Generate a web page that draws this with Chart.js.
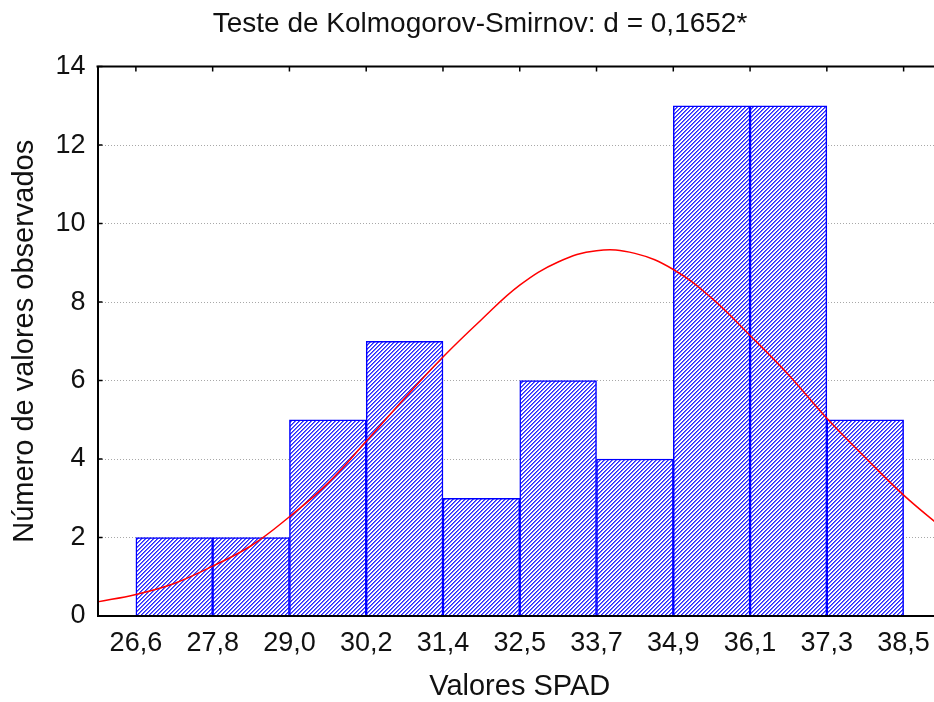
<!DOCTYPE html>
<html>
<head>
<meta charset="utf-8">
<title>Valores SPAD</title>
<script src="https://cdn.jsdelivr.net/npm/chart.js@4.4.0/dist/chart.umd.min.js"></script>
<style>
    html, body { margin: 0; padding: 0; background: #fff; overflow: hidden; }
    #wrap { width: 960px; height: 702px; }
</style>
</head>
<body>
<div id="wrap"><canvas id="spadChart" width="960" height="702"></canvas></div>
<script>
// Bin edges (tick labels) and observed counts per bin
var edgeLabels = ['26,6', '27,8', '29,0', '30,2', '31,4', '32,5', '33,7', '34,9', '36,1', '37,3', '38,5'];
var counts = [2, 2, 5, 7, 3, 6, 4, 13, 13, 5];

// Expected normal curve (x in bin units, 0 = 26,6)
var curveX = [-0.5, 0, 0.5, 1, 1.5, 2, 2.5, 3, 3.5, 4, 4.5, 5, 5.5, 6, 6.5, 7, 7.5, 8, 8.5, 9, 9.5, 10, 10.5];
var curveY = [0.36, 0.55, 0.83, 1.27, 1.79, 2.53, 3.38, 4.45, 5.55, 6.6, 7.55, 8.43, 9.02, 9.31, 9.24, 8.83, 8.1, 7.15, 6.15, 5.04, 4.04, 3.08, 2.25];

var fontFamily = "'Liberation Sans', Arial, sans-serif";
var textColor = '#111';

// Hatch fill for the bars
function makeHatch() {
    var tile = document.createElement('canvas');
    tile.width = 4;
    tile.height = 4;
    var t = tile.getContext('2d');
    t.fillStyle = '#fff';
    t.fillRect(0, 0, 4, 4);
    for (var y = 0; y < 4; y++) {
        t.fillStyle = '#2828ff';
        t.fillRect((3 - y + 4) % 4, y, 1, 1);
        t.fillStyle = '#6c6cff';
        t.fillRect((4 - y) % 4, y, 1, 1);
    }
    return document.getElementById('spadChart').getContext('2d').createPattern(tile, 'repeat');
}

var barPoints = counts.map(function (c, i) { return { x: i + 0.5, y: c }; });
var curvePoints = curveX.map(function (x, i) { return { x: x, y: curveY[i] }; });

// Top frame line and the small inward tick marks
var frameTicks = {
    id: 'frameTicks',
    afterDraw: function (chart) {
        var c = chart.ctx, area = chart.chartArea;
        var xs = chart.scales.x, ys = chart.scales.y;
        c.save();
        c.strokeStyle = '#000';
        c.lineWidth = 2;
        c.beginPath();
        c.moveTo(area.left - 1, area.top);
        c.lineTo(area.right, area.top);
        c.stroke();
        c.lineWidth = 1.5;
        c.beginPath();
        xs.ticks.forEach(function (t) {
            var px = xs.getPixelForValue(t.value);
            c.moveTo(px, area.top);
            c.lineTo(px, area.top + 5);
        });
        ys.ticks.forEach(function (t) {
            var py = ys.getPixelForValue(t.value);
            c.moveTo(area.left, py);
            c.lineTo(area.left + 5, py);
        });
        c.stroke();
        c.restore();
    }
};

var ctx = document.getElementById('spadChart').getContext('2d');
var spadChart = new Chart(ctx, {
    type: 'bar',
    data: {
        datasets: [{
            type: 'line',
            data: curvePoints,
            borderColor: '#ff0000',
            borderWidth: 1.5,
            pointRadius: 0,
            tension: 0.4,
            fill: false,
            order: 0
        }, {
            type: 'bar',
            data: barPoints,
            backgroundColor: makeHatch(),
            borderColor: '#0000ff',
            borderWidth: 1.5,
            barPercentage: 1,
            categoryPercentage: 1,
            order: 1
        }]
    },
    options: {
        responsive: false,
        animation: false,
        layout: { padding: { left: 18, right: 18, top: 0, bottom: 0 } },
        plugins: {
            legend: { display: false },
            tooltip: { enabled: false },
            title: {
                display: true,
                text: 'Teste de Kolmogorov-Smirnov: d = 0,1652*',
                color: textColor,
                font: { family: fontFamily, size: 28, weight: 'normal' },
                padding: { top: 7, bottom: 26 }
            }
        },
        scales: {
            x: {
                type: 'linear',
                offset: false,
                min: -0.5,
                max: 10.5,
                afterBuildTicks: function (scale) {
                    scale.ticks = edgeLabels.map(function (l, i) { return { value: i }; });
                },
                afterFit: function (scale) { scale.height = 86; },
                grid: { display: false, drawTicks: false },
                border: { display: true, color: '#000', width: 2, z: 1 },
                ticks: {
                    padding: 11,
                    color: textColor,
                    font: { family: fontFamily, size: 27 },
                    maxRotation: 0,
                    autoSkip: false,
                    callback: function (value) { return edgeLabels[value]; }
                },
                title: {
                    display: true,
                    text: 'Valores SPAD',
                    color: textColor,
                    font: { family: fontFamily, size: 29 },
                    padding: { top: 0, bottom: -2 }
                }
            },
            y: {
                min: 0,
                max: 14,
                afterFit: function (scale) { scale.width = 79.5; },
                grid: { color: '#a8a8a8', lineWidth: 1, drawTicks: false },
                border: { display: true, color: '#000', width: 2, dash: [1, 2], z: 1 },
                ticks: {
                    stepSize: 2,
                    padding: 12,
                    color: textColor,
                    font: { family: fontFamily, size: 27 }
                },
                title: {
                    display: true,
                    text: 'Número de valores observados',
                    color: textColor,
                    font: { family: fontFamily, size: 29 },
                    padding: { top: -10, bottom: 0 }
                }
            }
        }
    },
    plugins: [frameTicks]
});
</script>
</body>
</html>
